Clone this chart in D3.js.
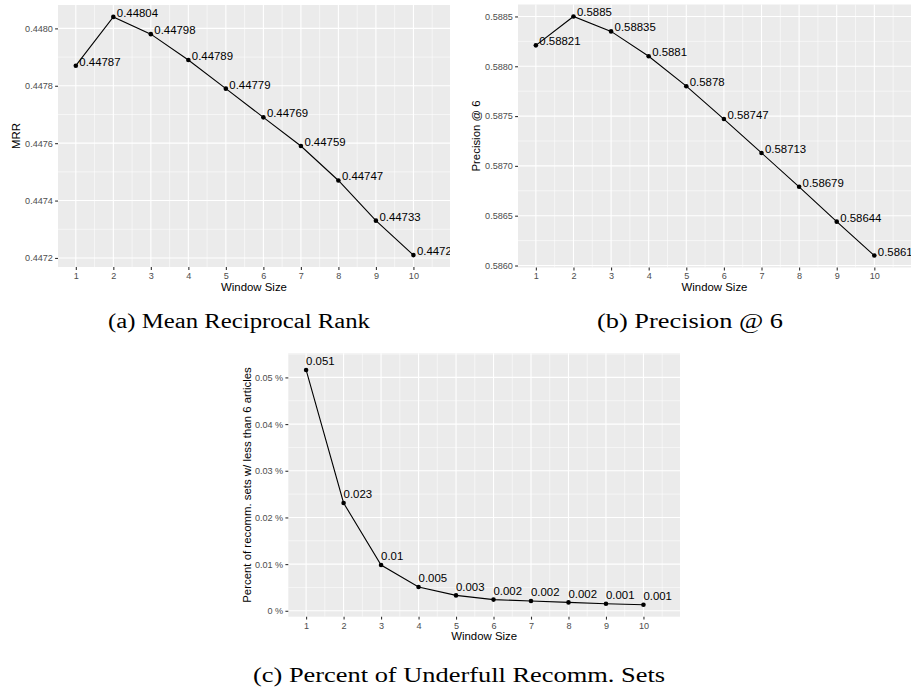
<!DOCTYPE html>
<html>
<head>
<meta charset="utf-8">
<script src="https://cdn.jsdelivr.net/npm/d3@7"></script>
<style>
	body { margin: 0; background: #fff; }
	text { font-family: "Liberation Sans", Arial, sans-serif; }
	.caption { font-family: "Liberation Serif", "Times New Roman", serif; }
</style>
</head>
<body>
<svg id="chart" width="911" height="696"></svg>
<script>
let windowSizes = [1, 2, 3, 4, 5, 6, 7, 8, 9, 10];

let mrrValues = [0.44787, 0.44804, 0.44798, 0.44789, 0.44779, 0.44769, 0.44759, 0.44747, 0.44733, 0.44721];
let mrrLabels = ['0.44787', '0.44804', '0.44798', '0.44789', '0.44779', '0.44769', '0.44759', '0.44747', '0.44733', '0.44721'];
let mrrTicks = [0.4472, 0.4474, 0.4476, 0.4478, 0.4480];
let mrrTickLabels = ['0.4472', '0.4474', '0.4476', '0.4478', '0.4480'];

let precValues = [0.58821, 0.5885, 0.58835, 0.5881, 0.5878, 0.58747, 0.58713, 0.58679, 0.58644, 0.5861];
let precLabels = ['0.58821', '0.5885', '0.58835', '0.5881', '0.5878', '0.58747', '0.58713', '0.58679', '0.58644', '0.5861'];
let precTicks = [0.5860, 0.5865, 0.5870, 0.5875, 0.5880, 0.5885];
let precTickLabels = ['0.5860', '0.5865', '0.5870', '0.5875', '0.5880', '0.5885'];

// percent of recommendation sets with fewer than 6 articles
let underValues = [0.0516, 0.0231, 0.0098, 0.0051, 0.0033, 0.0024, 0.0021, 0.0018, 0.0015, 0.0013];
let underLabels = ['0.051', '0.023', '0.01', '0.005', '0.003', '0.002', '0.002', '0.002', '0.001', '0.001'];
let underTicks = [0, 0.01, 0.02, 0.03, 0.04, 0.05];
let underTickLabels = ['0 %', '0.01 %', '0.02 %', '0.03 %', '0.04 %', '0.05 %'];
let underNudge = 0.001;

let svg = d3.select('#chart');

//Draws one ggplot-style panel
function makePanel(p) {
	let g = svg.append('g')
		.attr('transform', `translate(${p.x},${p.y})`);

	let xScale = d3.scaleLinear()
		.domain([0.525, 10.975])
		.range([0, p.w]);

	// 5% expansion of the data range (labels count when nudged)
	let ext = d3.extent(p.values.concat(p.values.map(v => v + p.nudge)));
	let pad = (ext[1] - ext[0]) * 0.05;
	let yScale = d3.scaleLinear()
		.domain([ext[0] - pad, ext[1] + pad])
		.range([p.h, 0]);

	g.append('rect')
		.attr('width', p.w)
		.attr('height', p.h)
		.attr('fill', '#ebebeb');

	let clipId = 'clip-' + p.id;
	g.append('clipPath').attr('id', clipId)
		.append('rect').attr('width', p.w).attr('height', p.h);

	// minor grid
	let step = p.ticks[1] - p.ticks[0];
	let yMinor = [p.ticks[0] - step / 2].concat(p.ticks.map(t => t + step / 2))
		.filter(v => v > yScale.domain()[0] && v < yScale.domain()[1]);
	let xMinor = windowSizes.map(d => d + 0.5)
		.filter(v => v < xScale.domain()[1]);

	g.selectAll('.ymin').data(yMinor).enter().append('line')
		.attr('x1', 0).attr('x2', p.w)
		.attr('y1', d => yScale(d)).attr('y2', d => yScale(d))
		.attr('stroke', '#fff').attr('stroke-width', 0.55);
	g.selectAll('.xmin').data(xMinor).enter().append('line')
		.attr('y1', 0).attr('y2', p.h)
		.attr('x1', d => xScale(d)).attr('x2', d => xScale(d))
		.attr('stroke', '#fff').attr('stroke-width', 0.55);

	// major grid
	g.selectAll('.ymaj').data(p.ticks).enter().append('line')
		.attr('x1', 0).attr('x2', p.w)
		.attr('y1', d => yScale(d)).attr('y2', d => yScale(d))
		.attr('stroke', '#fff').attr('stroke-width', 1.1);
	g.selectAll('.xmaj').data(windowSizes).enter().append('line')
		.attr('y1', 0).attr('y2', p.h)
		.attr('x1', d => xScale(d)).attr('x2', d => xScale(d))
		.attr('stroke', '#fff').attr('stroke-width', 1.1);

	let data = windowSizes.map((w, i) => ({ w: w, v: p.values[i], label: p.labels[i] }));

	let plot = g.append('g').attr('clip-path', `url(#${clipId})`);

	let line = d3.line()
		.x(d => xScale(d.w))
		.y(d => yScale(d.v));

	plot.append('path')
		.datum(data)
		.attr('d', line)
		.attr('fill', 'none')
		.attr('stroke', '#000')
		.attr('stroke-width', 1.1);

	plot.selectAll('circle').data(data).enter().append('circle')
		.attr('cx', d => xScale(d.w))
		.attr('cy', d => yScale(d.v))
		.attr('r', 2.3)
		.attr('fill', '#000');

	plot.selectAll('.lbl').data(data).enter().append('text')
		.attr('x', d => xScale(d.w) + p.labelDx)
		.attr('y', d => yScale(d.v + p.nudge))
		.attr('font-size', '11.4px')
		.attr('fill', '#000')
		.text(d => d.label);

	// AXES
	let xAxis = d3.axisBottom(xScale)
		.tickValues(windowSizes)
		.tickFormat(d3.format('d'))
		.tickSize(2.9)
		.tickPadding(2.6);
	let yAxis = d3.axisLeft(yScale)
		.tickValues(p.ticks)
		.tickFormat((d, i) => p.tickLabels[i])
		.tickSize(2.9)
		.tickPadding(2.2);

	let xg = g.append('g')
		.attr('transform', `translate(0,${p.h})`)
		.call(xAxis);
	let yg = g.append('g').call(yAxis);

	[xg, yg].forEach(a => {
		a.select('.domain').remove();
		a.selectAll('line').attr('stroke', '#333').attr('stroke-width', 1.1);
		a.selectAll('text')
			.attr('fill', '#4d4d4d')
			.style('font-size', '9.1px')
			.style('font-family', '"Liberation Sans", Arial, sans-serif');
	});

	// LABELS
	g.append('text')
		.attr('x', p.w / 2)
		.attr('y', p.h + 23.5)
		.attr('text-anchor', 'middle')
		.attr('font-size', '11.4px')
		.text('Window Size');

	g.append('text')
		.attr('transform', `rotate(-90)`)
		.attr('x', -p.h / 2)
		.attr('y', -p.titleGap)
		.attr('text-anchor', 'middle')
		.attr('font-size', '11.4px')
		.text(p.yTitle);
}

makePanel({ id: 'a', x: 58, y: 5, w: 392, h: 262, values: mrrValues, labels: mrrLabels,
	ticks: mrrTicks, tickLabels: mrrTickLabels, nudge: 0, labelDx: 3.5, yTitle: 'MRR', titleGap: 38 });
makePanel({ id: 'b', x: 518, y: 4.5, w: 393, h: 263, values: precValues, labels: precLabels,
	ticks: precTicks, tickLabels: precTickLabels, nudge: 0, labelDx: 3.5, yTitle: 'Precision @ 6', titleGap: 38 });
makePanel({ id: 'c', x: 288.3, y: 353.3, w: 391.7, h: 263.4, values: underValues, labels: underLabels,
	ticks: underTicks, tickLabels: underTickLabels, nudge: underNudge, labelDx: 0,
	yTitle: 'Percent of recomm. sets w/ less than 6 articles', titleGap: 37 });

// sub-figure captions
let captions = [
	{ text: '(a) Mean Reciprocal Rank', x: 108, y: 328, len: 262 },
	{ text: '(b) Precision @ 6', x: 597, y: 328, len: 186 },
	{ text: '(c) Percent of Underfull Recomm. Sets', x: 253, y: 682, len: 412 }
];
svg.selectAll('.caption').data(captions).enter().append('text')
	.attr('class', 'caption')
	.attr('x', d => d.x)
	.attr('y', d => d.y)
	.attr('font-size', '20.5px')
	.attr('textLength', d => d.len)
	.attr('lengthAdjust', 'spacingAndGlyphs')
	.text(d => d.text);
</script>
</body>
</html>
